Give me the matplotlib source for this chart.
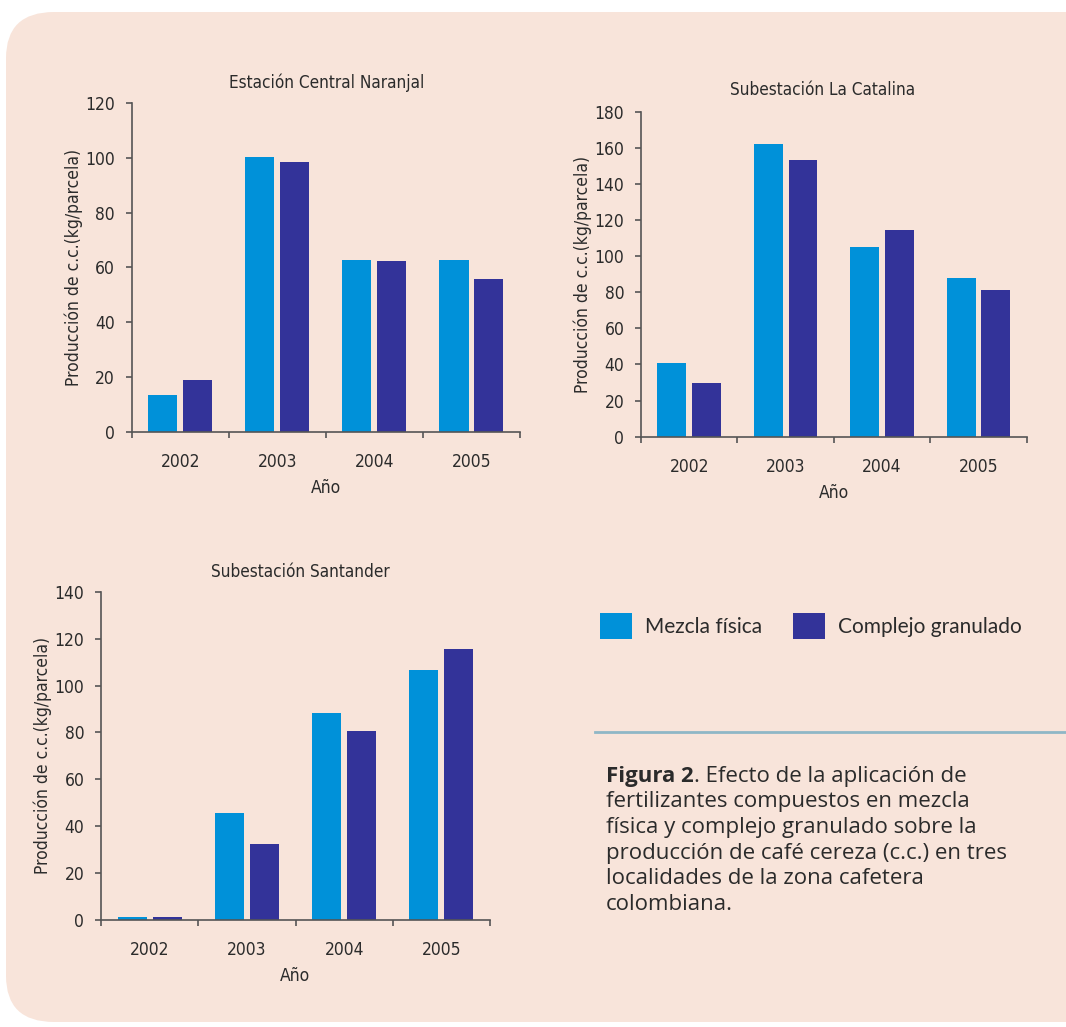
import numpy as np
import matplotlib
matplotlib.use("Agg")
import matplotlib.pyplot as plt
from matplotlib.patches import FancyBboxPatch
from matplotlib.lines import Line2D

# datos
anios = ["2002", "2003", "2004", "2005"]
series = ["Mezcla física", "Complejo granulado"]

naranjal_mezcla = [13.4, 100.5, 62.8, 62.8]
naranjal_complejo = [18.9, 98.4, 62.5, 55.7]

catalina_mezcla = [41.0, 162.0, 104.9, 87.7]
catalina_complejo = [29.5, 153.0, 114.3, 81.2]

santander_mezcla = [1.2, 45.5, 88.4, 106.6]
santander_complejo = [1.2, 32.4, 80.6, 115.4]

titulos = ["Estación Central Naranjal", "Subestación La Catalina", "Subestación Santander"]
ymax = [120, 180, 140]
ypaso = [20, 20, 20]

c_mezcla = "#0091D9"
c_complejo = "#333399"
fondo = "#F8E4DA"
texto = "#2b2b2b"

plt.rcParams["font.family"] = ["DejaVu Sans"]
plt.rcParams["font.stretch"] = "condensed"

W, H = 1066, 1027
fig = plt.figure(figsize=(W / 100, H / 100), dpi=100)
fig.patch.set_facecolor("white")

# panel de fondo redondeado
panel = FancyBboxPatch((6 / W, 1 - 1022 / H), 1.2, (1022 - 12) / H,
                       boxstyle="round,pad=0,rounding_size=0.045",
                       transform=fig.transFigure, facecolor=fondo,
                       edgecolor="none", zorder=-5)
fig.patches.append(panel)


def px_axes(x0, y0, x1, y1):
    # caja de ejes en pixeles (origen arriba a la izquierda)
    return [x0 / W, 1 - y1 / H, (x1 - x0) / W, (y1 - y0) / H]


cajas = [px_axes(131.7, 103.3, 520, 431.7),
         px_axes(641, 111.7, 1026.7, 436.7),
         px_axes(101, 591.7, 490, 920)]
datos = [(naranjal_mezcla, naranjal_complejo),
         (catalina_mezcla, catalina_complejo),
         (santander_mezcla, santander_complejo)]
tit_y = [83, 90, 572]
tit_x = [327, 823, 300]

x = np.arange(len(anios))
w = 0.3
handles = None
for i in range(3):
    ax = fig.add_axes(cajas[i])
    ax.set_facecolor("none")
    m, c = datos[i]
    b1 = ax.bar(x - 0.18, m, w, color=c_mezcla, label=series[0], zorder=2)
    b2 = ax.bar(x + 0.18, c, w, color=c_complejo, label=series[1], zorder=2)
    handles = [b1, b2]
    ax.set_xlim(-0.5, 3.5)
    ax.set_ylim(0, ymax[i])
    ax.set_yticks(np.arange(0, ymax[i] + 1, ypaso[i]))
    ax.set_xticks(x)
    ax.set_xticklabels(anios)
    ax.set_xticks(np.arange(-0.5, 4.0, 1.0), minor=True)
    ax.tick_params(axis="x", which="major", length=0, pad=15, labelsize=12.5, colors=texto)
    ax.tick_params(axis="x", which="minor", length=4, width=1.2, color="#555555", direction="out")
    ax.tick_params(axis="y", length=4, width=1.2, color="#555555", labelsize=12.5,
                   labelcolor=texto, pad=8)
    for s in ["top", "right"]:
        ax.spines[s].set_visible(False)
    for s in ["left", "bottom"]:
        ax.spines[s].set_color("#555555")
        ax.spines[s].set_linewidth(1.2)
    ax.set_xlabel("Año", fontsize=12.5, color=texto, labelpad=6)
    ax.set_ylabel("Producción de c.c.(kg/parcela)", fontsize=12.5, color=texto, labelpad=2)
    fig.text(tit_x[i] / W, 1 - tit_y[i] / H, titulos[i], ha="center", va="center",
             fontsize=12.3, color=texto)

# leyenda
fig.legend(handles, series, loc="center left",
           bbox_to_anchor=(600 / W, 1 - 626 / H), ncol=2, frameon=False,
           prop={"family": "Lato", "size": 15, "stretch": "normal"},
           handlelength=1.55, handleheight=1.55, handletextpad=0.6,
           columnspacing=1.5, borderpad=0, borderaxespad=0, labelcolor=texto)

# linea separadora
fig.add_artist(Line2D([595 / W, 1.0], [1 - 732 / H, 1 - 732 / H],
                      transform=fig.transFigure, color="#8FB7C6", lw=2))

# texto de la figura
fam_cap = "Open Sans"
tam_cap = 16
cap_x = 606 / W
cap_y = 1 - 782 / H
t0 = fig.text(cap_x, cap_y, "Figura 2", fontsize=tam_cap, fontweight="bold",
              family=fam_cap, stretch="normal", color=texto, va="baseline")
t1 = fig.text(0, 0, ". Efecto de la aplicación de", fontsize=tam_cap, family=fam_cap,
              stretch="normal", color=texto, va="baseline")
fig.canvas.draw()
bb = t0.get_window_extent()
t1.set_position((bb.x1 / W, cap_y))
resto = ["fertilizantes compuestos en mezcla",
         "física y complejo granulado sobre la",
         "producción de café cereza (c.c.) en tres",
         "localidades de la zona cafetera",
         "colombiana."]
for k, linea in enumerate(resto):
    fig.text(cap_x, cap_y - (k + 1) * 25.5 / H, linea, fontsize=tam_cap, family=fam_cap,
             stretch="normal", color=texto, va="baseline")

fig.savefig("out.png", dpi=100, facecolor=fig.get_facecolor())
